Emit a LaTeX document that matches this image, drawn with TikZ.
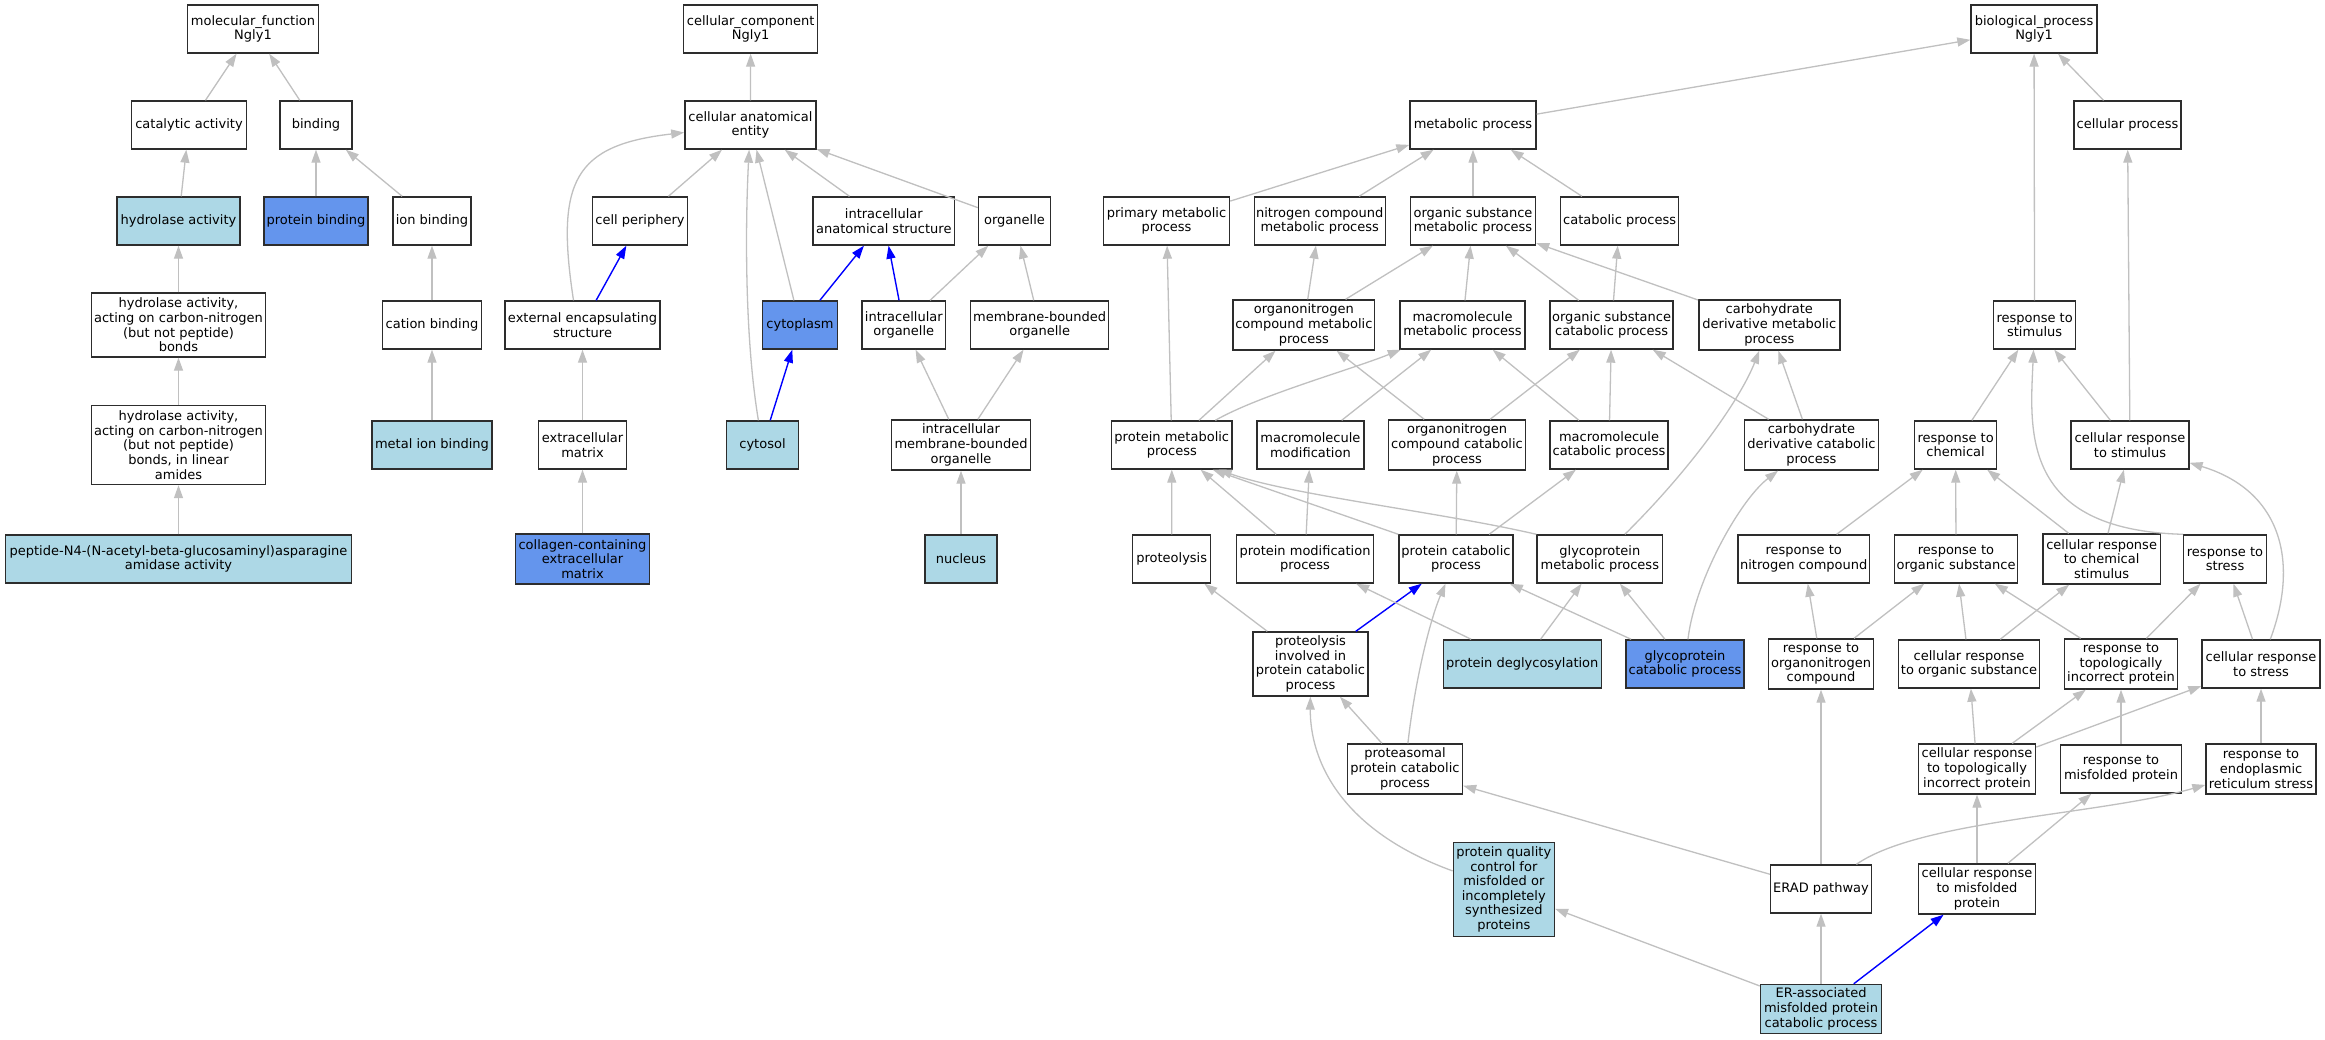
\documentclass[tikz,border=0pt]{standalone}
\usepackage{fontspec}
\setmainfont{DejaVu Sans}
\usetikzlibrary{arrows.meta}
\definecolor{edgegray}{RGB}{192,192,192}
\definecolor{lightblue}{RGB}{173,216,230}
\definecolor{cornflower}{RGB}{100,149,237}
\definecolor{borderc}{RGB}{45,45,45}
\begin{document}
\begin{tikzpicture}[x=1pt,y=-1pt,
  box/.style={draw=borderc, line width=1.4pt, rectangle, align=center, minimum height=48pt,
    inner xsep=1pt, inner ysep=1pt, fill=white, font=\fontsize{13}{14.6}\selectfont},
  bw/.style={minimum width=#1pt},
  bh/.style={minimum height=#1pt},
  lb/.style={fill=lightblue},
  cb/.style={fill=cornflower},
  edge/.style={edgegray, line width=1.3pt, -{Triangle[length=13pt,width=9pt]}},
  bedge/.style={blue, line width=1.4pt, -{Triangle[length=13pt,width=9pt]}}]
\fill[white] (0,0) rectangle (2325,1040);
\useasboundingbox (0,0) rectangle (2325,1040);
% ---------- molecular function ----------
\node[box,bw=131] (mf) at (253,29) {molecular\_function\\Ngly1};
\node[box,bw=115] (cat) at (189,125) {catalytic activity};
\node[box,bw=72] (bind) at (316,125) {binding};
\node[box,bw=123,lb] (hyd) at (178.5,221) {hydrolase activity};
\node[box,bw=104,cb] (pbind) at (316,221) {protein binding};
\node[box,bw=78] (ionb) at (432,221) {ion binding};
\node[box,bw=174,bh=64] (hydcn) at (178.5,325) {hydrolase activity,\\acting on carbon-nitrogen\\(but not peptide)\\bonds};
\node[box,bw=99] (catb) at (432,325) {cation binding};
\node[box,bw=174,bh=79] (hydla) at (178.5,445) {hydrolase activity,\\acting on carbon-nitrogen\\(but not peptide)\\bonds, in linear\\amides};
\node[box,bw=120,lb] (metb) at (432,445) {metal ion binding};
\node[box,bw=346,lb] (pep) at (178.5,559) {peptide-N4-(N-acetyl-beta-glucosaminyl)asparagine\\amidase activity};
% ---------- cellular component ----------
\node[box,bw=134] (cc) at (750.7,29) {cellular\_component\\Ngly1};
\node[box,bw=131] (cae) at (750.4,125) {cellular anatomical\\entity};
\node[box,bw=95] (cper) at (640,221) {cell periphery};
\node[box,bw=141.5] (ias) at (883.8,221) {intracellular\\anatomical structure};
\node[box,bw=72] (org) at (1014.5,221) {organelle};
\node[box,bw=155] (ees) at (582.5,325) {external encapsulating\\structure};
\node[box,bw=74.5,cb] (cyto) at (800,325) {cytoplasm};
\node[box,bw=83.5] (iorg) at (903.8,325) {intracellular\\organelle};
\node[box,bw=138] (mbo) at (1039.7,325) {membrane-bounded\\organelle};
\node[box,bw=88] (ecm) at (582.5,445) {extracellular\\matrix};
\node[box,bw=72,lb] (cytosol) at (762.5,445) {cytosol};
\node[box,bw=139,bh=50] (imbo) at (961,445) {intracellular\\membrane-bounded\\organelle};
\node[box,bw=134,bh=50,cb] (ccecm) at (582.5,559) {collagen-containing\\extracellular\\matrix};
\node[box,bw=72,lb] (nuc) at (961,559) {nucleus};
% ---------- biological process ----------
\node[box,bw=126] (bp) at (2034,29) {biological\_process\\Ngly1};
\node[box,bw=126] (metp) at (1473,125) {metabolic process};
\node[box,bw=107] (cellp) at (2127.5,125) {cellular process};
\node[box,bw=126] (pmp) at (1166.5,221) {primary metabolic\\process};
\node[box,bw=131] (ncmp) at (1319.7,221) {nitrogen compound\\metabolic process};
\node[box,bw=125] (osmp) at (1473,221) {organic substance\\metabolic process};
\node[box,bw=118] (catp) at (1619.6,221) {catabolic process};
\node[box,bw=141.5,bh=50] (oncmp) at (1303.8,325) {organonitrogen\\compound metabolic\\process};
\node[box,bw=125] (mmp) at (1462.5,325) {macromolecule\\metabolic process};
\node[box,bw=123] (oscp) at (1611.6,325) {organic substance\\catabolic process};
\node[box,bw=141,bh=50] (cdmp) at (1769.3,325) {carbohydrate\\derivative metabolic\\process};
\node[box,bw=82] (rstim) at (2034.6,325) {response to\\stimulus};
\node[box,bw=120.5] (protmp) at (1171.8,445) {protein metabolic\\process};
\node[box,bw=107] (mmod) at (1310.4,445) {macromolecule\\modification};
\node[box,bw=137,bh=50] (onccp) at (1457,445) {organonitrogen\\compound catabolic\\process};
\node[box,bw=118] (mcp) at (1609,445) {macromolecule\\catabolic process};
\node[box,bw=134,bh=50] (cdcp) at (1811.4,445) {carbohydrate\\derivative catabolic\\process};
\node[box,bw=82] (rchem) at (1955.6,445) {response to\\chemical};
\node[box,bw=117.7] (crstim) at (2130,445) {cellular response\\to stimulus};
\node[box,bw=78] (prot) at (1171.7,559) {proteolysis};
\node[box,bw=137] (pmodp) at (1305,559) {protein modification\\process};
\node[box,bw=114] (pcp) at (1456,559) {protein catabolic\\process};
\node[box,bw=125.5] (gmp) at (1599.8,559) {glycoprotein\\metabolic process};
\node[box,bw=131.5] (rnc) at (1803.7,559) {response to\\nitrogen compound};
\node[box,bw=123.5] (ros) at (1956,559) {response to\\organic substance};
\node[box,bw=117.5,bh=50] (crcs) at (2101.6,559) {cellular response\\to chemical\\stimulus};
\node[box,bw=82.5] (rstress) at (2225,559) {response to\\stress};
\node[box,bw=115,bh=64] (pipcp) at (1310.5,664) {proteolysis\\involved in\\protein catabolic\\process};
\node[box,bw=158,lb] (pdeg) at (1522.3,664) {protein deglycosylation};
\node[box,bw=118,cb] (gcp) at (1685,664) {glycoprotein\\catabolic process};
\node[box,bw=105,bh=50] (ronc) at (1821,664) {response to\\organonitrogen\\compound};
\node[box,bw=141.5] (cros) at (1969,664) {cellular response\\to organic substance};
\node[box,bw=113,bh=50] (rtip) at (2121,664) {response to\\topologically\\incorrect protein};
\node[box,bw=118] (crstress) at (2261,664) {cellular response\\to stress};
\node[box,bw=115,bh=50] (ppcp) at (1405,769) {proteasomal\\protein catabolic\\process};
\node[box,bw=117,bh=50] (crtip) at (1977,769) {cellular response\\to topologically\\incorrect protein};
\node[box,bw=121] (rmp) at (2121,769) {response to\\misfolded protein};
\node[box,bw=110,bh=50] (rers) at (2261,769) {response to\\endoplasmic\\reticulum stress};
\node[box,bw=101,bh=94,lb] (pqc) at (1503.8,889.5) {protein quality\\control for\\misfolded or\\incompletely\\synthesized\\proteins};
\node[box,bw=101] (erad) at (1821,889) {ERAD pathway};
\node[box,bw=117,bh=50] (crmp) at (1977,889) {cellular response\\to misfolded\\protein};
\node[box,bw=121,bh=49,lb] (erac) at (1821,1009) {ER-associated\\misfolded protein\\catabolic process};
% ---------- edges: molecular function ----------
\draw[edge] (cat) -- (mf);
\draw[edge] (bind) -- (mf);
\draw[edge] (hyd) -- (cat);
\draw[edge] (pbind) -- (bind);
\draw[edge] (ionb) -- (bind);
\draw[edge] (hydcn) -- (hyd);
\draw[edge] (catb) -- (ionb);
\draw[edge] (hydla) -- (hydcn);
\draw[edge] (metb) -- (catb);
\draw[edge] (pep) -- (hydla);
% ---------- edges: cellular component ----------
\draw[edge] (cae) -- (cc);
\draw[edge] (cper) -- (cae);
\draw[edge] ([xshift=-9pt]ees.north) .. controls (555,180) and (575,145) .. (cae);
\draw[bedge] (ees) -- (cper);
\draw[edge] (ecm) -- (ees);
\draw[edge] (ccecm) -- (ecm);
\draw[edge] (ias) -- (cae);
\draw[edge] (org) -- (cae);
\draw[edge] (cyto) -- (cae);
\draw[edge] (cytosol) .. controls (745,340) and (745,230) .. (cae);
\draw[bedge] (cyto) -- (ias);
\draw[bedge] (iorg) -- (ias);
\draw[edge] (iorg) -- (org);
\draw[edge] (mbo) -- (org);
\draw[bedge] (cytosol) -- (cyto);
\draw[edge] (imbo) -- (iorg);
\draw[edge] (imbo) -- (mbo);
\draw[edge] (nuc) -- (imbo);
% ---------- edges: biological process ----------
\draw[edge] (metp) -- (bp);
\draw[edge] (rstim) -- (bp);
\draw[edge] (cellp) -- (bp);
\draw[edge] (pmp) -- (metp);
\draw[edge] (ncmp) -- (metp);
\draw[edge] (osmp) -- (metp);
\draw[edge] (catp) -- (metp);
\draw[edge] (oncmp) -- (ncmp);
\draw[edge] (oncmp) -- (osmp);
\draw[edge] (mmp) -- (osmp);
\draw[edge] (oscp) -- (osmp);
\draw[edge] (oscp) -- (catp);
\draw[edge] (cdmp) -- (osmp);
\draw[edge] (protmp) -- (pmp);
\draw[edge] (protmp) -- (oncmp);
\draw[edge] (protmp) .. controls (1260,395) and (1350,370) .. (mmp);
\draw[edge] (mmod) -- (mmp);
\draw[edge] (onccp) -- (oncmp);
\draw[edge] (onccp) -- (oscp);
\draw[edge] (mcp) -- (mmp);
\draw[edge] (mcp) -- (oscp);
\draw[edge] (cdcp) -- (oscp);
\draw[edge] (cdcp) -- (cdmp);
\draw[edge] (gmp) .. controls (1690,470) and (1740,400) .. (cdmp);
\draw[edge] (gmp.north west) .. controls (1440,512) and (1290,495) .. ([xshift=-14pt]protmp.south east);
\draw[edge] (prot) -- (protmp);
\draw[edge] (pmodp) -- (protmp);
\draw[edge] (pmodp) -- (mmod);
\draw[edge] (pcp.north west) -- ([xshift=-20pt]protmp.south east);
\draw[edge] (pcp) -- (onccp);
\draw[edge] (pcp) -- (mcp);
\draw[edge] (pipcp) -- (prot);
\draw[bedge] (pipcp) -- (pcp);
\draw[edge] (pdeg) -- (pmodp);
\draw[edge] (pdeg) -- (gmp);
\draw[edge] (gcp) -- (pcp);
\draw[edge] (gcp) -- (gmp);
\draw[edge] (gcp) .. controls (1695,580) and (1740,500) .. (cdcp);
\draw[edge] (ppcp) -- (pipcp);
\draw[edge] (ppcp) .. controls (1415,680) and (1430,620) .. (pcp);
\draw[edge] (pqc) .. controls (1340,830) and (1310,760) .. (pipcp);
\draw[edge] (erad) -- (ppcp);
\draw[edge] (erad) .. controls (1920,820) and (2100,815) .. (rers);
\draw[edge] (erac) -- (pqc);
\draw[edge] (erac) -- (erad);
\draw[bedge] (erac) -- (crmp);
\draw[edge] (rchem) -- (rstim);
\draw[edge] (crstim) -- (rstim);
\draw[edge] (crstim) -- (cellp);
\draw[edge] (rstress.north west) .. controls (2020,530) and (2030,430) .. (rstim);
\draw[edge] (rnc) -- (rchem);
\draw[edge] (ros) -- (rchem);
\draw[edge] (crcs) -- (rchem);
\draw[edge] (crcs) -- (crstim);
\draw[edge] (crstress) .. controls (2300,560) and (2280,490) .. (crstim);
\draw[edge] (crstress) -- (rstress);
\draw[edge] (ronc) -- (rnc);
\draw[edge] (ronc) -- (ros);
\draw[edge] (cros) -- (ros);
\draw[edge] (cros) -- (crcs);
\draw[edge] (rtip) -- (ros);
\draw[edge] (rtip) -- (rstress);
\draw[edge] (crtip) -- (cros);
\draw[edge] (crtip) -- (rtip);
\draw[edge] (crtip) -- (crstress);
\draw[edge] (rmp) -- (rtip);
\draw[edge] (rers) -- (crstress);
\draw[edge] (crmp) -- (crtip);
\draw[edge] (crmp) -- (rmp);
\draw[edge] (erad) -- (ronc);
\end{tikzpicture}
\end{document}
